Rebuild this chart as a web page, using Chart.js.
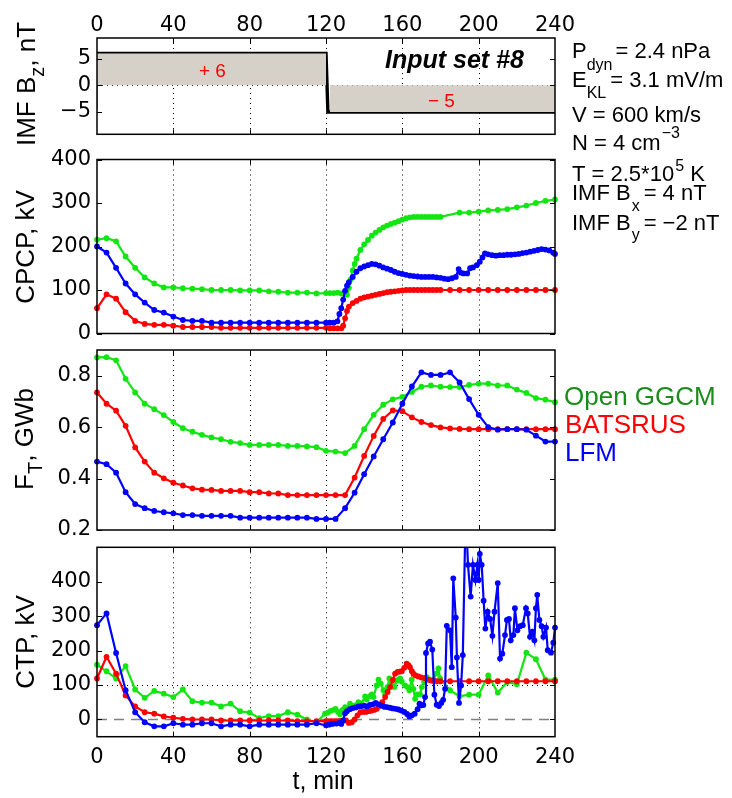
<!DOCTYPE html>
<html><head><meta charset="utf-8">
<script src="https://cdn.jsdelivr.net/npm/chart.js@4/dist/chart.umd.min.js"></script>
<style>
html,body{margin:0;padding:0;background:#fff;}
#wrap{position:relative;width:732px;height:798px;overflow:hidden;}
canvas{position:absolute;left:0;top:0;}
</style></head><body>
<div id="wrap">
<canvas id="c1" width="732" height="798"></canvas>
<canvas id="c2" width="732" height="798"></canvas>
<canvas id="c3" width="732" height="798"></canvas>
<canvas id="c4" width="732" height="798"></canvas>
</div>
<script>
// ---------------- DATA ----------------
const xTickLabels = [0, 40, 80, 120, 160, 200, 240];
const bzTicks = [-5, 0, 5];
const cpcpTicks = [0, 100, 200, 300, 400];
const ftTicks = [0.2, 0.4, 0.6, 0.8];
const ctpTicks = [0, 100, 200, 300, 400];

// IMF Bz input
const bzT = [0, 120, 121, 240];
const bzV = [6, 6, -5, -5];

// CPCP, kV
const cpcpGgcmT = [0,5,10,15,20,25,30,35,40,45,50,55,60,65,70,75,80,85,90,95,100,105,110,115,120,122,124,126,128,130,131,132,133,134,135,136,138,140,142,144,146,148,150,152,154,156,158,160,162,164,166,168,170,172,174,176,178,180,190,195,200,205,210,215,220,225,230,235,240];
const cpcpGgcmV = [216,219,212,177,151,129,115,106,106,104,103,102,100,100,100,99,99,99,97,96,94,94,94,92,93,93,93,94,92,91,89,105,125,145,160,172,192,205,215,225,232,238,244,248,252,255,258,262,265,267,268,268,268,268,268,268,268,268,278,278,280,283,284,286,290,294,300,305,308];
const cpcpBatsT = [0,5,10,15,20,25,30,35,40,45,50,55,60,65,70,75,80,85,90,95,100,105,110,115,120,122,124,126,128,129,130,131,132,134,136,138,140,142,144,146,148,150,152,154,156,158,160,162,164,166,168,170,172,174,176,178,180,185,190,195,200,205,210,215,220,225,230,235,240];
const cpcpBatsV = [58,90,80,49,29,22,20,20,18,15,15,15,15,13,13,13,13,13,13,13,13,13,13,13,13,12,12,12,12,18,35,52,62,70,75,80,83,85,87,89,91,93,95,96,97,98,99,100,100,100,100,100,100,100,100,100,100,100,100,100,100,100,100,100,100,100,100,100,100];
const cpcpLfmT = [0,5,10,15,20,25,30,35,40,45,50,55,60,65,70,75,80,85,90,95,100,105,110,115,120,122,124,126,127,128,129,130,131,132,134,136,138,140,142,144,146,148,150,152,154,156,158,160,162,164,166,168,170,172,174,176,178,180,182,184,186,188,189.5,190.5,192,194,195.5,197,199,200.6,202,203.3,205,207,209,211,213,215,217,219,221,223,225,227,229,231,233,235,237,239,240];
const cpcpLfmV = [200,186,151,115,90,71,54,48,39,31,29,29,25,25,25,25,25,25,25,25,25,25,25,25,25,25,25,28,45,58,78,98,110,118,130,142,150,154,157,160,159,156,152,149,146,142,139,137,135,133,132,131,130,130,130,130,129,128,126,125,127,130,148,140,138,138,150,152,157,165,175,184,182,180,179,180,180,181,181,182,183,185,186,188,190,192,194,193,191,186,183];

// F_T, GWb (5-min samples)
const ftT = [0,5,10,15,20,25,30,35,40,45,50,55,60,65,70,75,80,85,90,95,100,105,110,115,120,125,130,135,140,145,150,155,160,165,170,175,180,185,190,195,200,205,210,215,220,225,230,235,240];
const ftGgcmV = [0.871,0.872,0.860,0.788,0.735,0.691,0.670,0.647,0.620,0.596,0.582,0.570,0.560,0.553,0.543,0.538,0.531,0.531,0.531,0.531,0.527,0.527,0.525,0.522,0.508,0.505,0.499,0.527,0.592,0.648,0.687,0.708,0.718,0.737,0.757,0.762,0.757,0.756,0.756,0.764,0.769,0.769,0.762,0.762,0.746,0.733,0.713,0.707,0.697];
const ftBatsV = [0.735,0.691,0.664,0.605,0.521,0.466,0.423,0.401,0.384,0.373,0.362,0.357,0.356,0.352,0.352,0.352,0.347,0.347,0.342,0.342,0.336,0.336,0.336,0.336,0.336,0.336,0.336,0.404,0.488,0.566,0.632,0.665,0.662,0.638,0.620,0.608,0.599,0.595,0.593,0.592,0.592,0.592,0.592,0.592,0.592,0.592,0.592,0.592,0.592];
const ftLfmV = [0.466,0.456,0.423,0.347,0.301,0.285,0.274,0.269,0.265,0.258,0.258,0.255,0.255,0.255,0.255,0.248,0.248,0.248,0.248,0.248,0.248,0.248,0.248,0.243,0.243,0.243,0.285,0.345,0.417,0.486,0.553,0.618,0.691,0.758,0.813,0.803,0.803,0.813,0.774,0.709,0.648,0.600,0.590,0.592,0.592,0.590,0.567,0.544,0.544];

// CTP, kV
const ctpGgcmT = [0,5,10,15,20,25,30,35,40,45,50,55,60,65,70,75,80,85,90,95,100,105,110,115,119.5,121,122.5,124,125,126.3,127.4,128.7,130,131.3,132.6,134,135.3,137,138.5,140.5,141.4,143,144,144.9,146.6,147.5,148.7,150.1,151,152.2,153.2,154.5,155.8,157.4,158.8,159.7,161.4,162.7,163.7,164.9,165.8,166.7,167.9,169.3,170.2,171.4,172.8,174.5,176.3,177.7,178.9,179.8,185,190,195,200,205,210,215,220,225,230,235,240];
const ctpGgcmV = [159,140,119,155,87,63,83,75,65,87,53,49,49,38,46,24,20,4,10,10,21,14,0,-8,17,20,25,28,31,22,15,28,36,32,46,38,41,50,46,67,58,68,73,65,99,116,104,85,73,94,119,104,94,114,119,110,99,94,85,116,89,60,73,73,94,109,123,116,116,133,148,119,85,67,72,72,128,78,109,102,194,175,116,116];
const ctpBatsT = [0,5,10,15,20,25,30,35,40,45,50,55,60,65,70,75,80,85,90,95,100,105,110,115,120,121.5,123,124.5,126,127.5,129,130.5,132,133.5,135,136.5,138,139.5,141,142.5,144,145.5,146.6,148,149.5,151,152.3,153.6,155,156.2,157.5,158.7,159.7,161,162.3,163.2,164,165,165.8,167,168.4,170,171.9,173.5,175,176.5,178,180,185,190,195,200,205,210,215,220,225,230,235,240];
const ctpBatsV = [119,182,133,70,38,21,17,9,5,2,0,0,0,-3,-3,-3,-3,-3,-3,-3,-3,-5,-5,-5,-5,-5,-5,-5,-5,-4,-3,-3,-10,-8,0,12,21,22,22,24,26,28,31,40,50,65,80,94,115,133,138,139,140,150,162,158,152,140,133,128,125,122,120,116,113,112,111,111,111,111,111,111,111,111,111,111,111,111,111,111];
const ctpLfmT = [0,5,10,15,20,25,30,35,40,45,50,55,60,65,70,75,80,85,90,95,100,105,110,115,120,121.5,123,124,125.5,127,128,129,130,131,132.5,134,135.5,137,138.5,140,141.5,143,144.5,146,147.5,149,150.5,152,153.5,155,156.5,158,159.5,161,162.5,163.7,165,166.5,168,169,170,171,171.9,172.4,173.5,174.5,175.7,176.8,178,179.2,180.4,181.4,182.4,183.3,185,185.9,186.7,188,188.6,189.7,190.8,191.7,193.2,194.4,195.8,197,198.3,199.3,200,200.6,201.6,202.6,203.5,204.7,206,207.2,208.3,210,211.2,212.4,213.8,214.8,215.9,216.8,218.2,219,220.3,221.7,223.1,224.8,225.7,226.9,228.1,229.2,230,230.7,231.8,233,233.9,235.3,236.2,237.9,239.1,240];
const ctpLfmV = [274,308,193,85,21,-8,-20,-20,-11,-15,-15,-11,-11,-20,-15,-15,-20,-15,-15,-15,-15,-15,-15,-11,-17,-15,-13,-12,-12,-10,-13,-3,18,24,30,33,35,38,39,40,38,42,44,48,44,40,37,36,34,32,31,29,26,22,16,9,12,17,30,46,41,42,65,193,221,226,203,72,43,39,48,57,89,272,259,152,410,296,180,48,99,187,610,449,357,449,405,449,405,481,449,345,264,313,292,243,313,396,177,191,245,289,292,230,245,323,259,271,274,323,308,240,255,230,323,362,289,271,240,267,201,194,223,267];

// ---------------- STYLE ----------------
const GREEN = '#12e612', RED = '#ff0000', BLUE = '#0000ff';
const TICKFONT = {family: '"DejaVu Sans", sans-serif', size: 21};
const SANS = '"Liberation Sans", Arial, sans-serif';
const gridX = [40, 80, 120, 160, 200];

const panelCfg = {
  bz:   {yTicks: bzTicks, hLines: [{v: 0, dash: [1, 4], color: '#000', width: 1}]},
  cpcp: {yTicks: cpcpTicks, hLines: []},
  ft:   {yTicks: ftTicks, hLines: []},
  ctp:  {yTicks: ctpTicks, hLines: [{v: 100, dash: [1, 4], color: '#000', width: 1}, {v: 0, dash: [10, 7], color: '#808080', width: 1.5}]}
};

function rich(ctx, x, y, parts, opt) {
  opt = opt || {};
  ctx.save();
  ctx.translate(x, y);
  if (opt.rot) ctx.rotate(-Math.PI / 2);
  const fam = opt.fam || SANS;
  const st = opt.style || '';
  const w = parts.map(p => { ctx.font = `${st} ${p[1]}px ${fam}`; return ctx.measureText(p[0]).width; });
  const total = parts.reduce((s, p, i) => s + w[i] + (p[3] || 0), 0);
  let cx = opt.center ? -total / 2 : 0;
  ctx.fillStyle = opt.color || '#000';
  ctx.textAlign = 'left'; ctx.textBaseline = 'alphabetic';
  parts.forEach((p, i) => {
    cx += (p[3] || 0);
    ctx.font = `${st} ${p[1]}px ${fam}`;
    ctx.fillText(p[0], cx, p[2]);
    cx += w[i];
  });
  ctx.restore();
}

function drawAnnotations(ctx) {
  // y-axis titles (rotated)
  rich(ctx, 35, 84, [['IMF B', 26, 0], ['z', 20, 9], [', nT', 26, 0]], {rot: true, center: true});
  rich(ctx, 34, 247, [['CPCP, kV', 26, 0]], {rot: true, center: true});
  rich(ctx, 33, 439, [['F', 26, 0], ['T', 20, 9], [', GWb', 26, 0]], {rot: true, center: true});
  rich(ctx, 34, 642, [['CTP, kV', 26, 0]], {rot: true, center: true});
  // x title
  rich(ctx, 323, 789, [['t, min', 25, 0]], {center: true});
  // panel 1 labels
  rich(ctx, 385, 68, [['Input set #8', 25, 0]], {style: 'italic bold'});
  rich(ctx, 199, 77, [['+ 6', 19, 0]], {color: '#ff0000'});
  rich(ctx, 428, 107, [['\u2212 5', 19, 0]], {color: '#ff0000'});
  // solar wind parameters
  const X = 572;
  rich(ctx, X, 58, [['P', 22, 0], ['dyn', 16, 12], ['= 2.4 nPa', 22, 0, 3]]);
  rich(ctx, X, 87, [['E', 22, 0], ['KL', 16, 11], ['= 3.1 mV/m', 22, 0, 4]]);
  rich(ctx, X, 121.5, [['V = 600 km/s', 22, 0]]);
  rich(ctx, X, 150, [['N = 4 cm', 22, 0], ['\u22123', 16, -12, 1]]);
  rich(ctx, X, 180.5, [['T = 2.5*10', 22, 0], ['5', 16, -10, 1], [' K', 22, 0]]);
  rich(ctx, X, 199.5, [['IMF B', 22, 0], ['x', 16, 11, 1], ['= 4 nT', 22, 0, 4]]);
  rich(ctx, X, 230, [['IMF B', 22, 0], ['y', 16, 10, 1], ['= \u22122 nT', 22, 0, 4]]);
  // legend
  rich(ctx, 564, 405, [['Open GGCM', 26, 0]], {color: '#1a8c1a'});
  rich(ctx, 565, 433, [['BATSRUS', 26, 0]], {color: '#ff0000'});
  rich(ctx, 565, 461, [['LFM', 26, 0]], {color: '#0000ff'});
}

const deco = {
  id: 'deco',
  beforeDatasetsDraw(chart, args, o) {
    const cfg = panelCfg[o.panel];
    const {ctx, chartArea: a, scales: {x, y}} = chart;
    ctx.save();
    ctx.lineWidth = 1; ctx.strokeStyle = '#000'; ctx.setLineDash([1, 4]);
    for (const t of gridX) {
      const px = Math.round(x.getPixelForValue(t)) + 0.5;
      ctx.beginPath(); ctx.moveTo(px, a.top); ctx.lineTo(px, a.bottom); ctx.stroke();
    }
    for (const h of cfg.hLines) {
      ctx.setLineDash(h.dash); ctx.strokeStyle = h.color; ctx.lineWidth = h.width;
      const py = Math.round(y.getPixelForValue(h.v)) + 0.5;
      ctx.beginPath(); ctx.moveTo(a.left, py); ctx.lineTo(a.right, py); ctx.stroke();
    }
    ctx.restore();
  },
  afterDatasetsDraw(chart, args, o) {
    const cfg = panelCfg[o.panel];
    const {ctx, chartArea: a, scales: {x, y}} = chart;
    ctx.save();
    ctx.strokeStyle = '#000'; ctx.lineWidth = 1;
    ctx.beginPath();
    for (const t of gridX) {
      const px = Math.round(x.getPixelForValue(t)) + 0.5;
      ctx.moveTo(px, a.top); ctx.lineTo(px, a.top + 5);
      ctx.moveTo(px, a.bottom); ctx.lineTo(px, a.bottom - 5);
    }
    for (const v of cfg.yTicks) {
      const py = Math.round(y.getPixelForValue(v)) + 0.5;
      ctx.moveTo(a.left, py); ctx.lineTo(a.left + 5, py);
      ctx.moveTo(a.right, py); ctx.lineTo(a.right - 5, py);
    }
    ctx.stroke();
    ctx.lineWidth = 1.5;
    ctx.strokeRect(a.left, a.top, a.right - a.left, a.bottom - a.top);
    ctx.restore();
    if (o.annot) drawAnnotations(ctx);
  }
};

function pts(t, v) { return t.map((x, i) => ({x: x, y: v[i]})); }
function series(t, v, color) {
  return {data: pts(t, v), borderColor: color, backgroundColor: color, borderWidth: 2.2,
    pointRadius: 2.9, pointBorderWidth: 0, pointBackgroundColor: color, tension: 0,
    clip: {left: 6, right: 6, top: 0, bottom: 0}};
}

function makeChart(id, panel, datasets, o) {
  const yt = panelCfg[panel].yTicks;
  return new Chart(document.getElementById(id), {
    type: 'line',
    data: {datasets: datasets},
    plugins: [deco],
    options: {
      responsive: false, animation: false, events: [], devicePixelRatio: 1,
      layout: {padding: {left: 0, right: 177, top: o.padTop, bottom: o.padBottom}},
      plugins: {legend: {display: false}, tooltip: {enabled: false}, deco: {panel: panel, annot: !!o.annot}},
      scales: {
        x: {type: 'linear', min: 0, max: 240, position: o.xPos || 'bottom', display: o.xShow,
          afterBuildTicks: s => { s.ticks = xTickLabels.map(v => ({value: v})); },
          afterFit: s => { s.height = o.xH || 0; },
          grid: {display: false, drawTicks: false}, border: {display: false},
          ticks: {font: TICKFONT, color: '#000', padding: o.xPad, maxRotation: 0, autoSkip: false}},
        y: {type: 'linear', min: o.ymin, max: o.ymax,
          afterBuildTicks: s => { s.ticks = yt.map(v => ({value: v})); },
          afterFit: s => { s.width = 97; },
          grid: {display: false, drawTicks: false}, border: {display: false},
          ticks: {font: TICKFONT, color: '#000', padding: 6, autoSkip: false,
            callback: v => (panel === 'ft' ? Number(v).toFixed(1) : String(v)).replace('-', '\u2212')}}
      }
    }
  });
}

// Panel 1: IMF Bz
makeChart('c1', 'bz', [
  {data: [{x: bzT[0], y: bzV[0]}, {x: bzT[1], y: bzV[1]}], fill: 'origin', backgroundColor: '#d5d1c9', borderWidth: 0, pointRadius: 0},
  {data: [{x: 122, y: bzV[2]}, {x: bzT[3], y: bzV[3]}], fill: 'origin', backgroundColor: '#d5d1c9', borderWidth: 0, pointRadius: 0},
  {data: [{x: 0, y: 0}, {x: 0, y: -4.5}], borderColor: '#888', borderWidth: 1, pointRadius: 0, fill: false},
  {data: pts(bzT, bzV), borderColor: '#000', borderWidth: 3.4, pointRadius: 0, fill: false}
], {padTop: 0, padBottom: 663.7, xPos: 'top', xShow: true, xH: 38, xPad: 0, ymin: -9.2, ymax: 8.9, annot: true});

// Panel 2: CPCP
makeChart('c2', 'cpcp', [
  series(cpcpLfmT, cpcpLfmV, BLUE),
  series(cpcpBatsT, cpcpBatsV, RED),
  series(cpcpGgcmT, cpcpGgcmV, GREEN)
], {padTop: 159.5, padBottom: 464.5, xShow: false, ymin: 0, ymax: 400});

// Panel 3: F_T
makeChart('c3', 'ft', [
  series(ftT, ftLfmV, BLUE),
  series(ftT, ftBatsV, RED),
  series(ftT, ftGgcmV, GREEN)
], {padTop: 350, padBottom: 268, xShow: false, ymin: 0.2, ymax: 0.9});

// Panel 4: CTP
makeChart('c4', 'ctp', [
  series(ctpLfmT, ctpLfmV, BLUE),
  series(ctpBatsT, ctpBatsV, RED),
  series(ctpGgcmT, ctpGgcmV, GREEN)
], {padTop: 547.3, padBottom: 0, xShow: true, xH: 61.3, xPad: 8, ymin: -50, ymax: 500});
</script>
</body></html>
